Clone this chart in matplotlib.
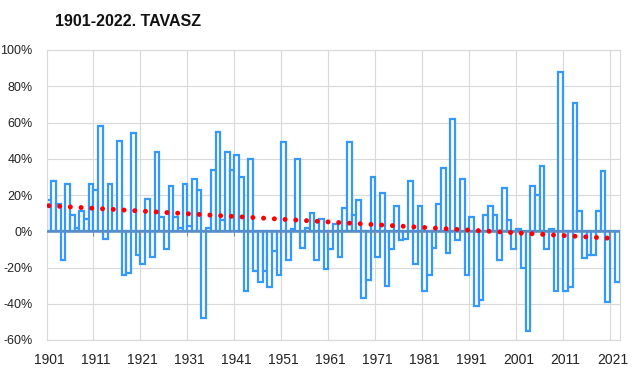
import numpy as np
import matplotlib.pyplot as plt

plt.rcParams['font.family'] = ['Liberation Sans', 'DejaVu Sans']

# spring precipitation anomaly (%), 1901-2022
years = list(range(1901, 2023))
anomaly = [
    17, 28, 15, -16, 26, 9, 2, 11, 7, 26,        # 1901-1910
    23, 58, -4, 26, 0, 50, -24, -23, 54, -13,    # 1911-1920
    -18, 18, -14, 44, 8, -10, 25, 8, 2, 26,      # 1921-1930
    3, 29, 23, -48, 2, 34, 55, 6, 44, 34,        # 1931-1940
    42, 30, -33, 40, -22, -28, -22, -31, -11, -24,  # 1941-1950
    49, -16, 1, 40, -9, 2, 10, -16, 7, -21,      # 1951-1960
    -10, 4, -14, 13, 49, 9, 17, -37, -27, 30,    # 1961-1970
    -14, 21, -30, -10, 14, -5, -4, 28, -18, 14,  # 1971-1980
    -33, -24, -9, 15, 35, -12, 62, -5, 29, -24,  # 1981-1990
    8, -41, -38, 9, 14, 9, -16, 24, 6, -10,      # 1991-2000
    1, -20, -55, 25, 20, 36, -10, 1, -33, 88,    # 2001-2010
    -33, -31, 71, 11, -15, -13, -13, 11, 33, -39,  # 2011-2020
    0, -28,                                      # 2021-2022
]
# linear trend read at the first and last year
trend_ends = [14.1, -4.1]
tick_years = [1901, 1911, 1921, 1931, 1941, 1951, 1961, 1971, 1981, 1991, 2001, 2011, 2021]
y_ticks = [-60, -40, -20, 0, 20, 40, 60, 80, 100]

fig = plt.figure(figsize=(6.4, 3.92), dpi=100)
ax = fig.add_axes([46.5 / 640, 52 / 392, 573 / 640, 290 / 392])

x = np.arange(len(years))
ax.bar(x, anomaly, width=1.0, color='white', edgecolor='#3399ff', linewidth=1.6, zorder=2)

# zero axis line with small ticks
ax.axhline(0, color='#5b8dc8', linewidth=1.8, zorder=3)
tick_pos = [years.index(y) - 0.5 for y in tick_years[1:]]
ax.vlines(tick_pos, -2.8, 0, color='#8c8c8c', linewidth=0.8, zorder=3)

# trend line
ax.plot([x[0], x[-1]], trend_ends, color='#ff0000', linewidth=3.6,
        linestyle=(0, (0.001, 2.15)), dash_capstyle='round', zorder=4)

ax.set_xlim(-0.5, len(years) - 0.5)
ax.set_ylim(-60, 100)
ax.set_yticks(y_ticks)
ax.set_yticklabels([f'{v}%' for v in y_ticks])
ax.set_xticks([years.index(y) for y in tick_years])
ax.set_xticklabels([str(y) for y in tick_years])
ax.set_xticks(tick_pos, minor=True)

ax.set_axisbelow(True)
ax.grid(axis='y', color='#d9d9d9', linewidth=0.8)
ax.grid(axis='x', which='minor', color='#d9d9d9', linewidth=0.8)
ax.tick_params(axis='both', which='both', length=0, labelsize=9, colors='#222222')
ax.tick_params(axis='y', pad=10)
ax.tick_params(axis='x', pad=9, labelsize=10)
for s in ax.spines.values():
    s.set_color('#d9d9d9')
    s.set_linewidth(0.8)

fig.text(55 / 640, 1 - 21.5 / 392, '1901-2022. TAVASZ', fontsize=11.5, fontweight='bold',
         ha='left', va='center', color='#111111')

fig.savefig('out.png', dpi=100)
